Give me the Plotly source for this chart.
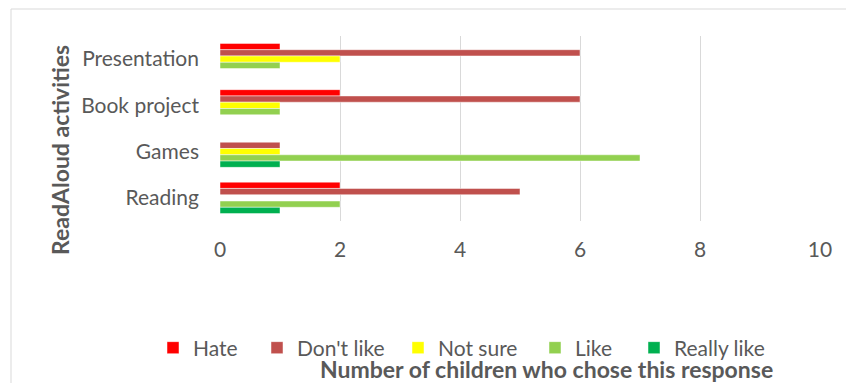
import plotly.graph_objects as go

# Survey responses: number of children choosing each answer per activity
activities = ["Presentation", "Book project", "Games", "Reading"]
responses = ["Hate", "Don't like", "Not sure", "Like", "Really like"]
hate = [1, 2, 0, 2]
dont_like = [6, 6, 1, 5]
not_sure = [2, 1, 1, 0]
like = [1, 1, 7, 2]
really_like = [0, 0, 1, 1]
colors = ["#FF0000", "#C0504D", "#FFFF00", "#92D050", "#00B050"]
x_ticks = [0, 2, 4, 6, 8, 10]

series = [hate, dont_like, not_sure, like, really_like]

FONT = "Lato"
GREY = "#595959"

# plot area in pixels: x 220..820, y 36..221
L, R, T, B = 220, 26, 36, 162
W, H = 846, 383
pw, ph = W - L - R, H - T - B


def px(x):
    return (x - L) / pw


def py(y):
    return (H - B - y) / ph


# each legend entry gets its own legend box so entries sit at their own x
legend_x = [153, 257, 398, 535, 634]
legend_names = ["legend", "legend2", "legend3", "legend4", "legend5"]

fig = go.Figure()
for name, vals, col, lg in zip(responses, series, colors, legend_names):
    fig.add_trace(go.Bar(
        y=activities, x=vals, name=name, orientation="h", legend=lg,
        marker=dict(color=col, line=dict(color="rgba(255,255,255,0.6)", width=0.8)),
    ))

legends = {}
for lg, lx in zip(legend_names, legend_x):
    legends[lg] = dict(
        orientation="h", x=px(lx), y=py(348), xanchor="left", yanchor="middle",
        font=dict(size=21, color=GREY, family=FONT),
        itemwidth=30, bgcolor="rgba(0,0,0,0)",
    )

fig.update_layout(
    width=W, height=H,
    margin=dict(l=L, r=R, t=T, b=B),
    paper_bgcolor="white", plot_bgcolor="white",
    barmode="group", bargap=0.32, bargroupgap=0,
    font=dict(family=FONT, color=GREY, size=21),
    xaxis=dict(
        range=[0, 10], tickvals=x_ticks, showgrid=True, gridcolor="#D9D9D9",
        gridwidth=1, zeroline=False, showline=False, ticks="",
        tickfont=dict(size=21, color=GREY, family=FONT),
        ticklabelstandoff=14,
    ),
    yaxis=dict(
        categoryorder="array", categoryarray=activities, autorange="reversed",
        showgrid=False, zeroline=False, showline=False, ticks="",
        tickfont=dict(size=21, color=GREY, family=FONT),
        ticklabelstandoff=20,
    ),
    showlegend=True,
    shapes=[
        dict(type="line", xref="paper", yref="paper", x0=px(11), x1=px(846),
             y0=py(9), y1=py(9), line=dict(color="#D9D9D9", width=1)),
        dict(type="line", xref="paper", yref="paper", x0=px(11), x1=px(11),
             y0=py(9), y1=py(390), line=dict(color="#D9D9D9", width=1)),
    ],
    annotations=[
        dict(text="<b>ReadAloud activities</b>", xref="paper", yref="paper",
             x=px(60), y=py(150), textangle=-90, showarrow=False,
             xanchor="center", yanchor="middle",
             font=dict(size=23, color=GREY, family=FONT)),
        dict(text="<b>Number of children who chose this response</b>",
             xref="paper", yref="paper", x=px(546), y=py(369), showarrow=False,
             xanchor="center", yanchor="middle",
             font=dict(size=23, color=GREY, family=FONT)),
    ],
)
fig.update_layout(**legends)

fig.write_html("out.html")
